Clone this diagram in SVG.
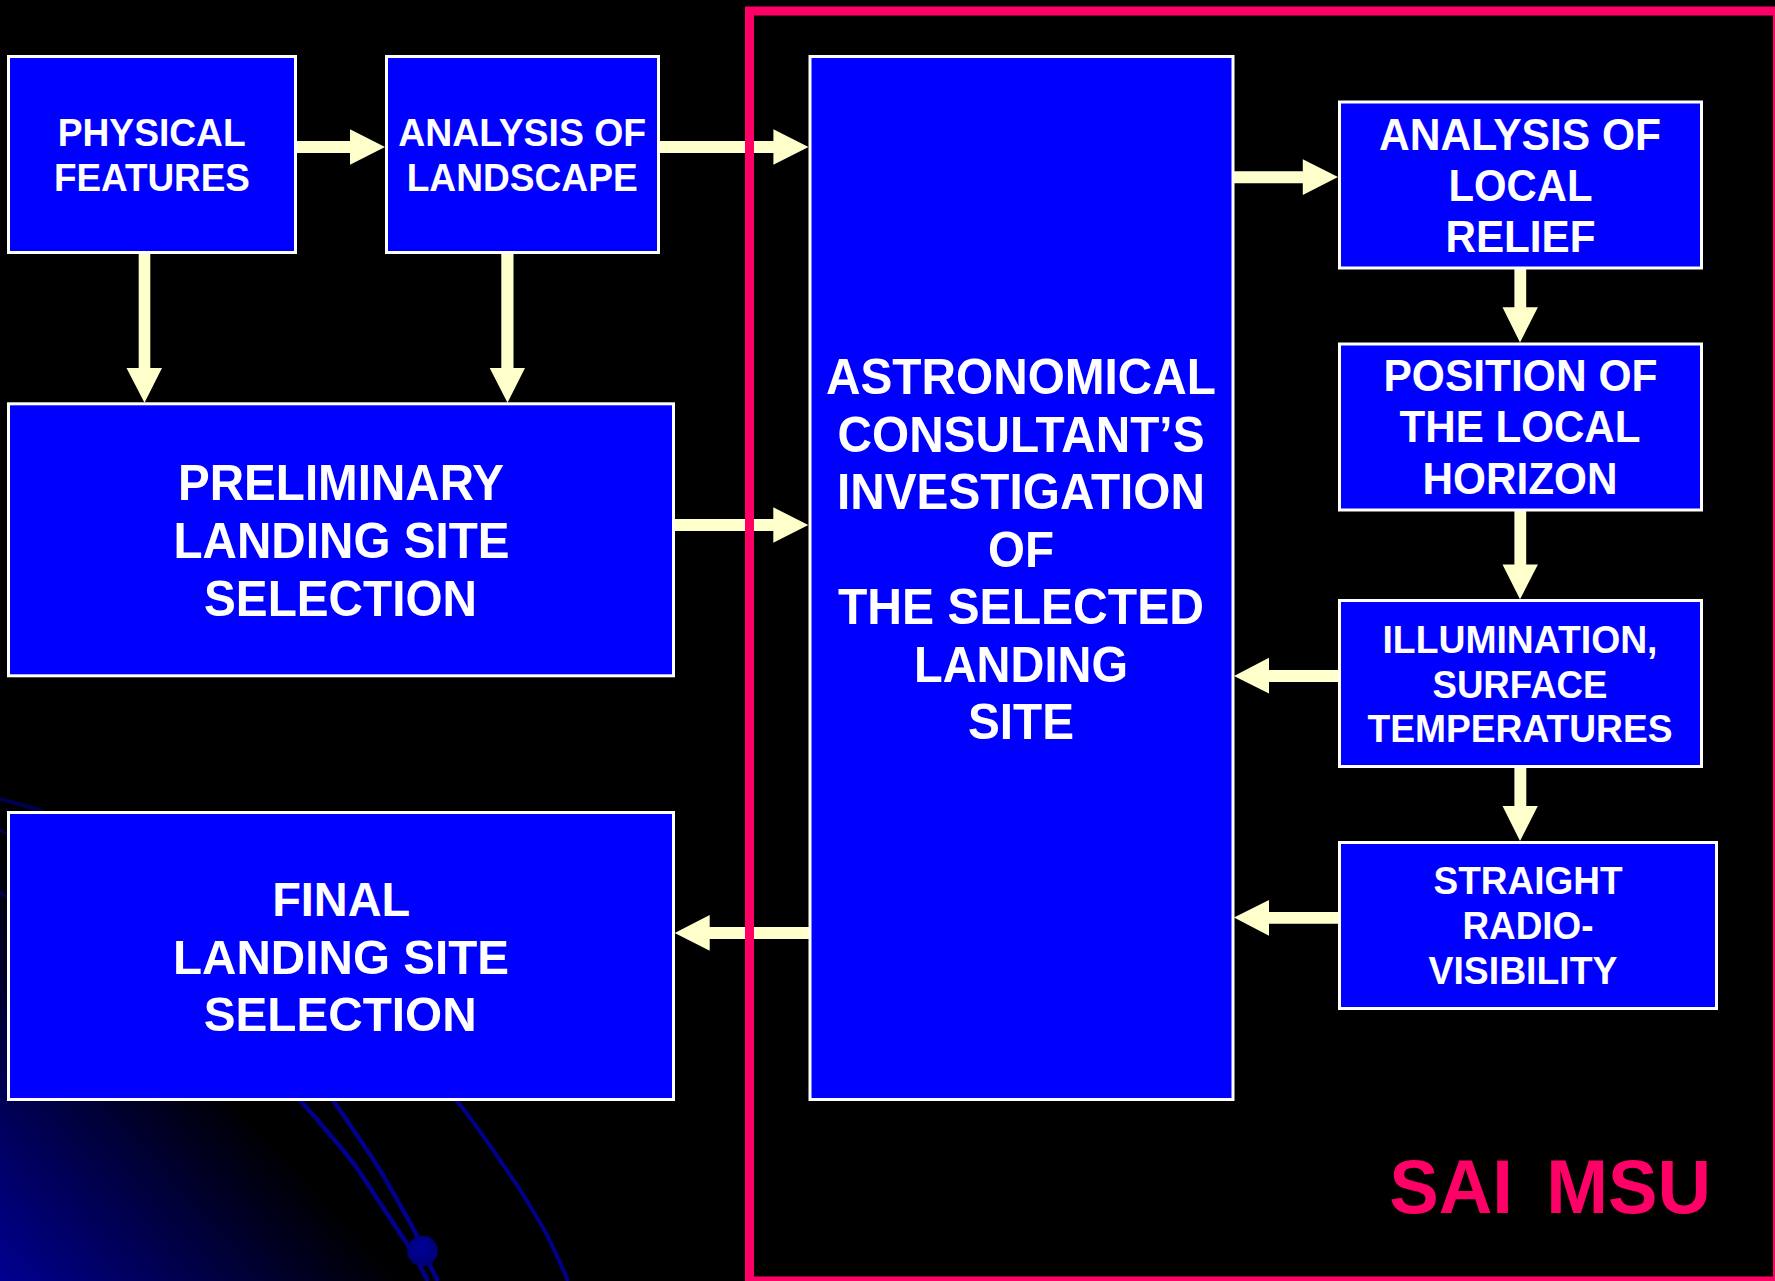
<svg xmlns="http://www.w3.org/2000/svg" width="1775" height="1281" viewBox="0 0 1775 1281">
<style>
.box{fill:#0000ff;stroke:#ffffff;stroke-width:3}
.t{font-family:"Liberation Sans",Arial,sans-serif;font-weight:700;fill:#ffffff;text-anchor:middle}
.a{fill:#ffffcc}
.swirl{fill:none;stroke:#00008a}
.faint{fill:none;stroke:#000050}
</style>
<defs>
<linearGradient id="glow" gradientUnits="userSpaceOnUse" x1="240" y1="1100" x2="18" y2="1301">
<stop offset="0" stop-color="#000000"/><stop offset="1" stop-color="#000090"/>
</linearGradient>
<radialGradient id="ball" cx="0.45" cy="0.4" r="0.65">
<stop offset="0" stop-color="#00009a"/><stop offset="1" stop-color="#000070"/>
</radialGradient>
</defs>
<rect id="background" width="1775" height="1281" fill="#000000"/>
<rect id="glow-area" x="0" y="800" width="420" height="481" fill="url(#glow)"/>
<g id="swirls">
<path class="swirl" stroke-width="4.5" d="M300 1100C322 1125 342 1148 357 1168C375 1195 392 1222 408 1245C416 1258 422 1270 428 1281"/>
<path class="swirl" stroke-width="4.5" d="M333 1100C350 1125 366 1148 380 1170C393 1193 406 1214 417 1236C422 1250 430 1266 438 1281"/>
<path class="swirl" stroke-width="4" d="M456 1100C478 1126 498 1158 517 1185C528 1202 538 1219 547 1235C554 1249 561 1265 568 1281"/>
<path class="faint" stroke-width="4" d="M0 799C15 803 30 807 44 812"/>
<path class="faint" stroke-width="3" d="M0 830L9 835"/>
<path class="faint" stroke-width="3" d="M0 892L9 899"/>
<circle cx="422.5" cy="1251" r="15.3" fill="url(#ball)"/>
</g>
<g id="connectors">
<path class="a" d="M296 141H350V129.3L385 147L350 164.7V153H296Z"/>
<path class="a" d="M659 141H773.4V129.3L808.5 147L773.4 164.7V153H659Z"/>
<path class="a" d="M138.7 253H150.3V368H162L144.5 402.7L126.5 368H138.7Z"/>
<path class="a" d="M501.3 253H513.5V368H525L507.5 402.7L489.7 368H501.3Z"/>
<path class="a" d="M674 519H773.3V507.3L808.3 525L773.3 542.7V531H674Z"/>
<path class="a" d="M809 927H709.7V915L674.7 933L709.7 950.7V939H809Z"/>
<path class="a" d="M1233 171.3H1302.8V159.2L1338 177L1302.8 195V183.3H1233Z"/>
<path class="a" d="M1514.4 267H1526.2V307.3H1537.9L1520 342.4L1502.5 307.3H1514.4Z"/>
<path class="a" d="M1514.4 510H1526.2V564.5H1537.9L1520 599.3L1502.5 564.5H1514.4Z"/>
<path class="a" d="M1339 670H1269V657.8L1234 676L1269 693.5V682H1339Z"/>
<path class="a" d="M1514.4 767H1526.3V806H1537.8L1520 841L1502.5 806H1514.4Z"/>
<path class="a" d="M1339 912H1269V900L1234 917.5L1269 935.8V923.8H1339Z"/>
</g>
<rect id="frame" x="749.5" y="11" width="1028" height="1270" fill="none" stroke="#ff0066" stroke-width="9"/>
<g id="physical-features">
<rect class="box" x="8.5" y="56.5" width="287" height="196"/>
<text class="t" font-size="38.2" x="151.7" y="145.7" textLength="188" lengthAdjust="spacingAndGlyphs">PHYSICAL</text>
<text class="t" font-size="38.2" x="151.9" y="190.7" textLength="196" lengthAdjust="spacingAndGlyphs">FEATURES</text>
</g>
<g id="analysis-of-landscape">
<rect class="box" x="386.5" y="56.5" width="272" height="196"/>
<text class="t" font-size="38.2" x="522.2" y="145.7" textLength="248" lengthAdjust="spacingAndGlyphs">ANALYSIS OF</text>
<text class="t" font-size="38.2" x="522.2" y="190.7" textLength="231" lengthAdjust="spacingAndGlyphs">LANDSCAPE</text>
</g>
<g id="preliminary-selection">
<rect class="box" x="8.5" y="403.8" width="665" height="272"/>
<text class="t" font-size="49.4" x="341" y="500" textLength="326" lengthAdjust="spacingAndGlyphs">PRELIMINARY</text>
<text class="t" font-size="49.4" x="341.5" y="557.7" textLength="336" lengthAdjust="spacingAndGlyphs">LANDING SITE</text>
<text class="t" font-size="49.4" x="340.5" y="616" textLength="273" lengthAdjust="spacingAndGlyphs">SELECTION</text>
</g>
<g id="final-selection">
<rect class="box" x="8.5" y="812.5" width="665" height="287"/>
<text class="t" font-size="49" x="341.2" y="915.8" textLength="138" lengthAdjust="spacingAndGlyphs">FINAL</text>
<text class="t" font-size="49" x="341" y="973.8" textLength="336" lengthAdjust="spacingAndGlyphs">LANDING SITE</text>
<text class="t" font-size="49" x="340.2" y="1031" textLength="273" lengthAdjust="spacingAndGlyphs">SELECTION</text>
</g>
<g id="astronomical-investigation">
<rect class="box" x="810" y="56.5" width="423" height="1043"/>
<text class="t" font-size="50" x="1021" y="394" textLength="390" lengthAdjust="spacingAndGlyphs">ASTRONOMICAL</text>
<text class="t" font-size="50" x="1021" y="451.7" textLength="367" lengthAdjust="spacingAndGlyphs">CONSULTANT’S</text>
<text class="t" font-size="50" x="1021" y="509" textLength="368" lengthAdjust="spacingAndGlyphs">INVESTIGATION</text>
<text class="t" font-size="50" x="1021" y="566.7" textLength="66" lengthAdjust="spacingAndGlyphs">OF</text>
<text class="t" font-size="50" x="1021" y="624" textLength="366" lengthAdjust="spacingAndGlyphs">THE SELECTED</text>
<text class="t" font-size="50" x="1021" y="681.7" textLength="214" lengthAdjust="spacingAndGlyphs">LANDING</text>
<text class="t" font-size="50" x="1021" y="739.3" textLength="106" lengthAdjust="spacingAndGlyphs">SITE</text>
</g>
<g id="local-relief">
<rect class="box" x="1339.5" y="102" width="362" height="166"/>
<text class="t" font-size="45" x="1520" y="150" textLength="282" lengthAdjust="spacingAndGlyphs">ANALYSIS OF</text>
<text class="t" font-size="45" x="1520.5" y="200.5" textLength="144" lengthAdjust="spacingAndGlyphs">LOCAL</text>
<text class="t" font-size="45" x="1520.5" y="251.5" textLength="150" lengthAdjust="spacingAndGlyphs">RELIEF</text>
</g>
<g id="local-horizon">
<rect class="box" x="1339.5" y="344" width="362" height="166"/>
<text class="t" font-size="45" x="1520.5" y="391" textLength="274" lengthAdjust="spacingAndGlyphs">POSITION OF</text>
<text class="t" font-size="45" x="1520" y="442" textLength="241" lengthAdjust="spacingAndGlyphs">THE LOCAL</text>
<text class="t" font-size="45" x="1520" y="494" textLength="195" lengthAdjust="spacingAndGlyphs">HORIZON</text>
</g>
<g id="illumination">
<rect class="box" x="1339.5" y="600.5" width="362" height="166"/>
<text class="t" font-size="39" x="1520" y="653" textLength="275" lengthAdjust="spacingAndGlyphs">ILLUMINATION,</text>
<text class="t" font-size="39" x="1520" y="697.6" textLength="175" lengthAdjust="spacingAndGlyphs">SURFACE</text>
<text class="t" font-size="39" x="1520" y="741.8" textLength="305" lengthAdjust="spacingAndGlyphs">TEMPERATURES</text>
</g>
<g id="radio-visibility">
<rect class="box" x="1339.5" y="842.5" width="377" height="166"/>
<text class="t" font-size="39" x="1528" y="894.3" textLength="189" lengthAdjust="spacingAndGlyphs">STRAIGHT</text>
<text class="t" font-size="39" x="1528" y="939" textLength="131" lengthAdjust="spacingAndGlyphs">RADIO-</text>
<text class="t" font-size="39" x="1523" y="983.7" textLength="189" lengthAdjust="spacingAndGlyphs">VISIBILITY</text>
</g>
<text id="sai-msu" font-family="Liberation Sans, Arial, sans-serif" font-weight="700" fill="#ff0066" font-size="76" word-spacing="13" text-anchor="middle" x="1550.2" y="1213.4" textLength="322" lengthAdjust="spacingAndGlyphs">SAI MSU</text>
</svg>
